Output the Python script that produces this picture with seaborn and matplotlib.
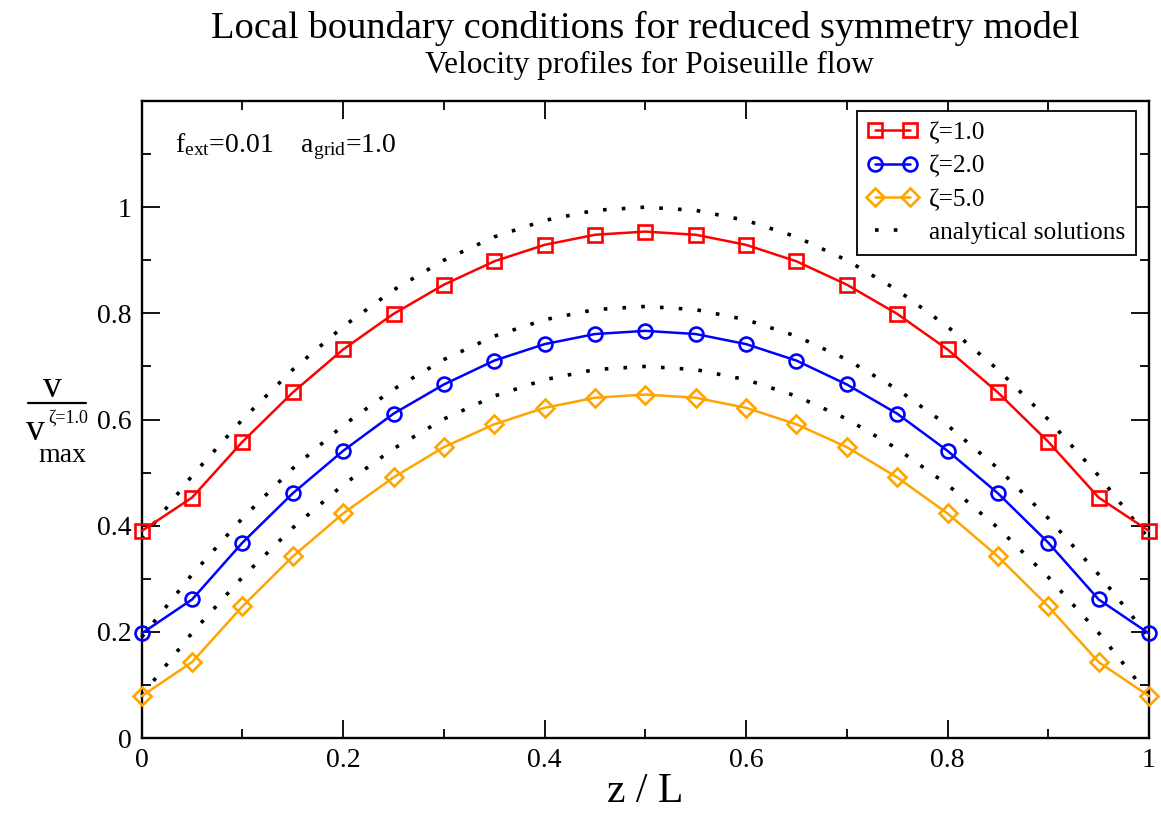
import matplotlib
matplotlib.use("Agg")
import matplotlib.pyplot as plt
import seaborn as sns
import pandas as pd
from matplotlib.lines import Line2D
from matplotlib.ticker import FixedLocator, FuncFormatter

# ---------------- data ----------------
z_over_L = [0.00, 0.05, 0.10, 0.15, 0.20, 0.25, 0.30, 0.35, 0.40, 0.45, 0.50,
            0.55, 0.60, 0.65, 0.70, 0.75, 0.80, 0.85, 0.90, 0.95, 1.00]

zeta1_sim = [0.390, 0.453, 0.558, 0.651, 0.732, 0.799, 0.854, 0.898, 0.929, 0.948, 0.954,
             0.948, 0.929, 0.898, 0.854, 0.799, 0.732, 0.651, 0.558, 0.453, 0.390]
zeta2_sim = [0.197, 0.261, 0.368, 0.461, 0.541, 0.611, 0.666, 0.711, 0.742, 0.761, 0.767,
             0.761, 0.742, 0.711, 0.666, 0.611, 0.541, 0.461, 0.368, 0.261, 0.197]
zeta5_sim = [0.079, 0.143, 0.248, 0.342, 0.423, 0.491, 0.548, 0.591, 0.622, 0.641, 0.647,
             0.641, 0.622, 0.591, 0.548, 0.491, 0.423, 0.342, 0.248, 0.143, 0.079]

zeta1_ana = [0.375, 0.494, 0.600, 0.694, 0.775, 0.844, 0.900, 0.944, 0.975, 0.994, 1.000,
             0.994, 0.975, 0.944, 0.900, 0.844, 0.775, 0.694, 0.600, 0.494, 0.375]
zeta2_ana = [0.190, 0.308, 0.414, 0.508, 0.589, 0.657, 0.713, 0.757, 0.788, 0.807, 0.813,
             0.807, 0.788, 0.757, 0.713, 0.657, 0.589, 0.508, 0.414, 0.308, 0.190]
zeta5_ana = [0.080, 0.198, 0.303, 0.396, 0.477, 0.545, 0.601, 0.644, 0.675, 0.694, 0.700,
             0.694, 0.675, 0.644, 0.601, 0.545, 0.477, 0.396, 0.303, 0.198, 0.080]

series_labels = ["ζ=1.0", "ζ=2.0", "ζ=5.0"]
analytic_label = "analytical solutions"
x_ticks = [0.0, 0.2, 0.4, 0.6, 0.8, 1.0]
y_ticks = [0.0, 0.2, 0.4, 0.6, 0.8, 1.0]
x_minor = [0.1, 0.3, 0.5, 0.7, 0.9]
y_minor = [0.1, 0.3, 0.5, 0.7, 0.9, 1.1]

title = "Local boundary conditions for reduced symmetry model"
subtitle = "Velocity profiles for Poiseuille flow"
xlabel = "z / L"
annotation = r"f$_{\mathrm{ext}}$=0.01    a$_{\mathrm{grid}}$=1.0"

# ---------------- style ----------------
sns.set_style("ticks")
plt.rcParams["font.family"] = ["Liberation Serif", "DejaVu Serif"]
plt.rcParams["mathtext.fontset"] = "custom"
plt.rcParams["mathtext.rm"] = "Liberation Serif"
plt.rcParams["mathtext.it"] = "Liberation Serif:italic"
plt.rcParams["mathtext.bf"] = "Liberation Serif:bold"
for k in ["text.color", "axes.labelcolor", "xtick.color", "ytick.color",
          "xtick.labelcolor", "ytick.labelcolor", "axes.edgecolor"]:
    plt.rcParams[k] = "black"

W, H = 1161, 814
fig = plt.figure(figsize=(W / 100, H / 100), dpi=100)
ax_left, ax_right, ax_top, ax_bottom = 141.7, 1149.0, 101.0, 738.0
ax = fig.add_axes([ax_left / W, 1 - ax_bottom / H,
                   (ax_right - ax_left) / W, (ax_bottom - ax_top) / H])


def fx(px):
    return px / W


def fy(py):
    return 1 - py / H


df = pd.DataFrame({"z": z_over_L,
                   "s1": zeta1_sim, "s2": zeta2_sim, "s5": zeta5_sim,
                   "a1": zeta1_ana, "a2": zeta2_ana, "a5": zeta5_ana})

dot_style = (0, (1, 4.2))
for col, lab in zip(["a1", "a2", "a5"], [analytic_label, None, None]):
    sns.lineplot(data=df, x="z", y=col, ax=ax, color="black", lw=2.6,
                 linestyle=dot_style, dash_capstyle="butt", label=lab,
                 legend=False, clip_on=False, zorder=2)

colors = ["#ff0000", "#0000ff", "#ffa500"]
markers = ["s", "o", "D"]
msizes = [9.4, 10.0, 8.8]
for col, lab, c, m, ms in zip(["s1", "s2", "s5"], series_labels, colors, markers, msizes):
    sns.lineplot(data=df, x="z", y=col, ax=ax, color=c, lw=1.8, marker=m, ms=ms,
                 mfc="none", mec=c, mew=1.9, label=lab, legend=False,
                 clip_on=False, zorder=3)

ax.set_xlim(0, 1)
ax.set_ylim(0, 1.2)
ax.xaxis.set_major_locator(FixedLocator(x_ticks))
ax.yaxis.set_major_locator(FixedLocator(y_ticks))
ax.xaxis.set_minor_locator(FixedLocator(x_minor))
ax.yaxis.set_minor_locator(FixedLocator(y_minor))


def fmt(v, pos=None):
    if abs(v) < 1e-9:
        return "0"
    if abs(v - 1) < 1e-9:
        return "1"
    return f"{v:.1f}"


ax.xaxis.set_major_formatter(FuncFormatter(fmt))
ax.yaxis.set_major_formatter(FuncFormatter(fmt))
ax.tick_params(which="both", direction="in", top=True, right=True,
               width=1.3, color="black", labelsize=20, labelcolor="black")
ax.tick_params(which="major", length=13, pad=7)
ax.tick_params(which="minor", length=6.5)
for sp in ax.spines.values():
    sp.set_linewidth(1.7)
    sp.set_color("black")
    sp.set_visible(True)

ax.set_xlabel(xlabel, fontsize=30, labelpad=0, color="black")
ax.set_ylabel("")

# legend
h, l = ax.get_legend_handles_labels()
order = [l.index(s) for s in series_labels] + [l.index(analytic_label)]
leg = ax.legend([h[i] for i in order], [l[i] for i in order],
                loc="upper right",
                bbox_to_anchor=((1135.7 - ax_left) / (ax_right - ax_left),
                                (ax_bottom - 111) / (ax_bottom - ax_top)),
                borderaxespad=0, frameon=True, fancybox=False, framealpha=1,
                edgecolor="black", fontsize=18.3, handlelength=2.0,
                handletextpad=0.45, labelspacing=0.42, borderpad=0.4,
                numpoints=2)
leg.get_frame().set_linewidth(1.3)
for t in leg.get_texts():
    t.set_color("black")

# annotation inside the plot
fig.text(fx(175), fy(152), annotation, fontsize=20, ha="left", va="baseline")

# titles
fig.text(fx(645), fy(38), title, fontsize=27.7, ha="center", va="baseline")
fig.text(fx(649), fy(73), subtitle, fontsize=22.5, ha="center", va="baseline")

# y label: v / v_max^{zeta=1.0}
fig.text(fx(52), fy(397), "v", fontsize=27, ha="center", va="baseline")
fig.add_artist(Line2D([fx(28), fx(86)], [fy(402.5), fy(402.5)],
                      color="black", lw=1.6, transform=fig.transFigure))
fig.text(fx(26), fy(440), "v", fontsize=27, ha="left", va="baseline")
fig.text(fx(48), fy(423), "ζ=1.0", fontsize=13, ha="left", va="baseline")
fig.text(fx(38), fy(462), "max", fontsize=20, ha="left", va="baseline")

fig.savefig("out.png", dpi=100)
